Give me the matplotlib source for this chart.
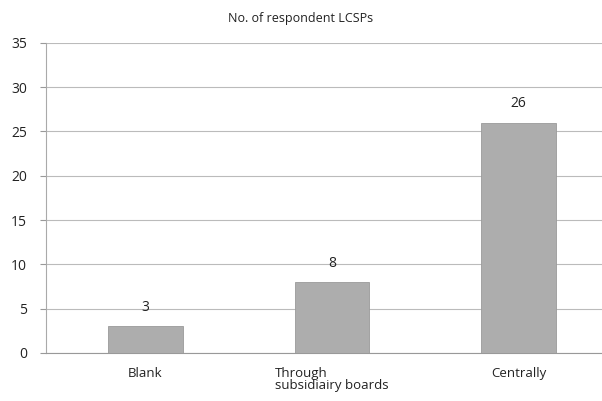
import matplotlib
matplotlib.use("Agg")
from matplotlib import pyplot as plt

plt.rcParams['font.family'] = ['Open Sans', 'DejaVu Sans']

categorias = ["Blank", "Through\nsubsidiairy boards", "Centrally"]
valores = [3, 8, 26]
ticks_y = [0, 5, 10, 15, 20, 25, 30, 35]

fig = plt.figure(figsize=(6.02, 4.01), dpi=100)
ax = fig.add_axes([0.077, 0.12, 0.93, 0.773])

x = range(len(categorias))
ax.bar(x, valores, width=0.4, color="#adadad", edgecolor="#9a9a9a",
       linewidth=0.6, zorder=3)

for xi, v in zip(x, valores):
    ax.text(xi, v + 1.3, str(v), ha="center", va="bottom", fontsize=10, color="#222222")

ax.set_ylim(0, 35)
ax.set_xlim(-0.53, 2.47)
ax.set_yticks(ticks_y)
ax.set_yticklabels([str(t) for t in ticks_y], fontsize=10, color="#222222")
ax.set_xticks(list(x))
ax.set_xticklabels(categorias, fontsize=9.5, color="#222222", linespacing=0.9)
ax.tick_params(axis="x", length=0, pad=10)
ax.tick_params(axis="y", length=4, color="#999999", pad=10)
for t in ax.get_xticklabels():
    t.set_multialignment("left")
# el segundo rotulo esta algo corrido a la izquierda en el original
ax.get_xticklabels()[1].set_x(-0.15)

ax.grid(axis="y", color="#bbbbbb", linewidth=0.8, zorder=0)
for s in ["top", "right"]:
    ax.spines[s].set_visible(False)
ax.spines["left"].set_color("#aaaaaa")
ax.spines["bottom"].set_color("#999999")

fig.text(0.5, 0.955, "No. of respondent LCSPs", ha="center", va="center",
         fontsize=9, color="#222222")

plt.savefig("out.png", dpi=100)
